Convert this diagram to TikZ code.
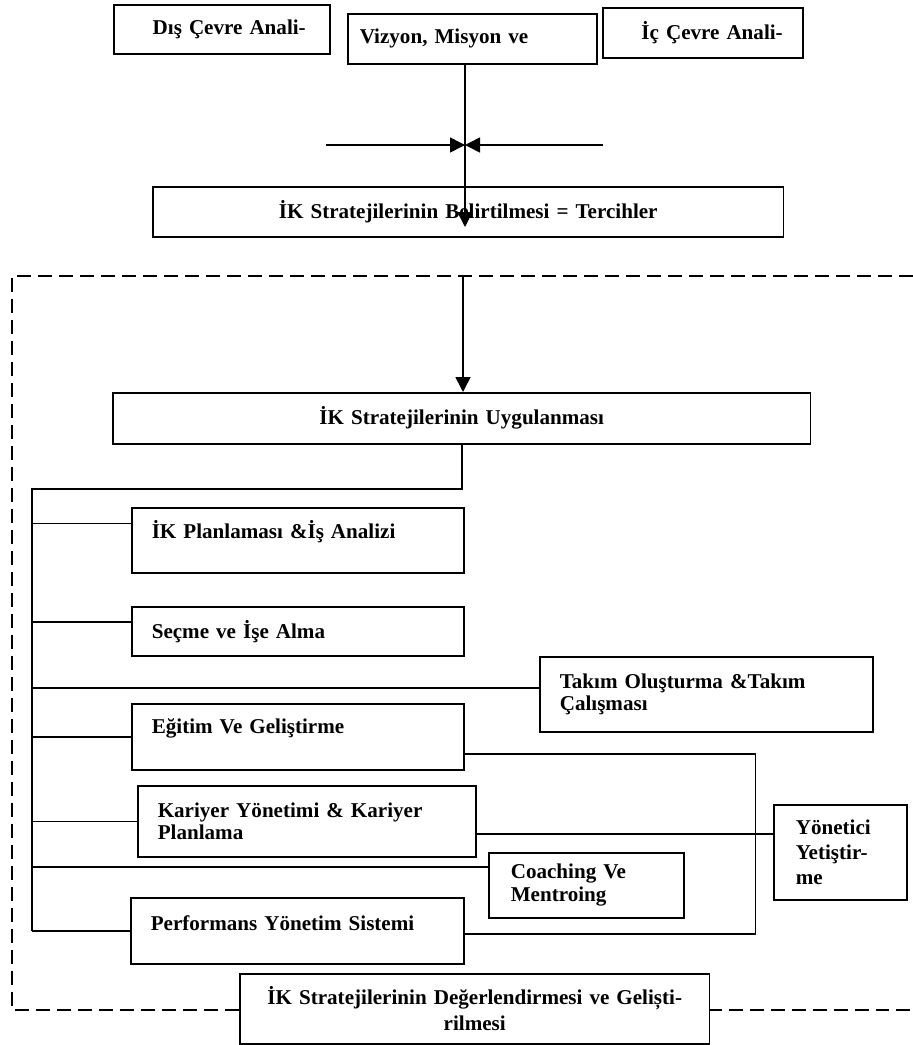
\documentclass[tikz,border=0pt]{standalone}
\usepackage{fontspec}
\setmainfont{Liberation Serif}
\usetikzlibrary{arrows.meta, positioning, calc}

\begin{document}
\begin{tikzpicture}[x=0.02cm, y=-0.02cm,
    ikbox/.style={draw, line width=0.9pt, fill=white, anchor=north west,
                  inner xsep=0.4cm, inner ysep=2pt, align=left,
                  font=\bfseries\fontsize{12}{13}\selectfont},
    link/.style={line width=0.9pt},
    flow/.style={line width=0.9pt, -{Triangle[length=0.3cm, width=0.3cm]}},
    frame/.style={line width=1.3pt, dash pattern=on 0.28cm off 0.14cm}]
  \useasboundingbox (0,0) rectangle (913,1045);

  \node[ikbox, minimum width=4.32cm, minimum height=0.98cm, inner xsep=0.48cm,
        text width=3.36cm, align=right] (dis) at (113,4) {Dış Çevre Anali-};
  \node[ikbox, minimum width=4.98cm, minimum height=1.0cm, inner xsep=0.24cm,
        text width=4.5cm] (viz) at (347,13) {Vizyon, Misyon ve};
  \node[ikbox, minimum width=4.0cm, minimum height=1.0cm,
        text width=3.2cm, align=right] (ic) at (602,7) {İç Çevre Anali-};

  \coordinate (lft) at (326,145);
  \coordinate (rgt) at (603,145);
  \coordinate (mid) at (465,145);
  \coordinate (tip) at (465,227);
  \draw[flow] (lft) -- (mid);
  \draw[flow] (rgt) -- (mid);

  \node[ikbox, minimum width=12.62cm, minimum height=1.0cm,
        text width=11.82cm, align=center] (bel) at (152,186)
        {İK Stratejilerinin Belirtilmesi = Tercihler};
  \draw[flow] (viz.south -| mid) -- (tip);

  \draw[frame] (913,276) -- (12,276) -- (12,1010) -- (913,1010);
  \coordinate (top) at (463,276);

  \node[ikbox, minimum width=13.96cm, minimum height=1.02cm,
        text width=13.16cm, align=center] (uyg) at (112,392)
        {İK Stratejilerinin Uygulanması};
  \draw[flow] (top) -- (uyg.north -| top);

  \node[ikbox, minimum width=6.64cm, minimum height=1.3cm, text width=5.84cm,
        text depth=0.42cm] (pla) at (131,507) {İK Planlaması \&İş Analizi};
  \node[ikbox, minimum width=6.64cm, minimum height=0.98cm, text width=5.84cm]
        (sec) at (131,606) {Seçme ve İşe Alma};
  \node[ikbox, minimum width=6.66cm, minimum height=1.5cm, text width=5.86cm]
        (tak) at (539,656) {Takım Oluşturma \&Takım\\Çalışması};
  \node[ikbox, minimum width=6.64cm, minimum height=1.32cm, text width=5.84cm,
        text depth=0.42cm] (egi) at (131,703) {Eğitim Ve Geliştirme};
  \node[ikbox, minimum width=6.76cm, minimum height=1.42cm, text width=5.96cm]
        (kar) at (137,785) {Kariyer Yönetimi \& Kariyer\\Planlama};
  \node[ikbox, minimum width=2.66cm, minimum height=1.9cm, inner xsep=0.44cm,
        text width=1.78cm, font=\bfseries\fontsize{12}{14.5}\selectfont]
        (yon) at (773,804) {Yönetici\\Yetiştir-\\me};
  \node[ikbox, minimum width=3.9cm, minimum height=1.3cm, inner xsep=0.44cm,
        text width=3.02cm] (coa) at (488,852) {Coaching Ve\\Mentroing};
  \node[ikbox, minimum width=6.66cm, minimum height=1.32cm, text width=5.86cm,
        text depth=0.3cm] (per) at (130,897) {Performans Yönetim Sistemi};

  \node[ikbox, minimum width=9.4cm, minimum height=1.4cm, text width=8.6cm,
        align=center, font=\bfseries\fontsize{12}{15}\selectfont] (deg)
        at (239,973) {İK Stratejilerinin Değerlendirmesi ve Geliști-\\rilmesi};

  \coordinate (spine) at (32,489);
  \draw[link] (uyg.south) |- (spine) -- (spine |- per.west);
  \draw[link] ([yshift=0.34cm]pla.west) -- ([yshift=0.34cm]pla.west -| spine);
  \draw[link] ([yshift=0.19cm]sec.west) -- ([yshift=0.19cm]sec.west -| spine);
  \draw[link] ([yshift=0.13cm]tak.west) -- ([yshift=0.13cm]tak.west -| spine);
  \draw[link] (egi.west) -- (egi.west -| spine);
  \draw[link] (kar.west) -- (kar.west -| spine);
  \draw[link] ([yshift=0.37cm]coa.west) -- ([yshift=0.37cm]coa.west -| spine);
  \draw[link] (per.west) -- (per.west -| spine);

  \draw[link] ([yshift=-0.34cm]egi.east) -- ++(291,0)
        |- ([yshift=-0.06cm]per.east);
  \draw[link] ([yshift=-0.25cm]kar.east) -- ([yshift=-0.25cm]kar.east -| yon.west);
\end{tikzpicture}
\end{document}
